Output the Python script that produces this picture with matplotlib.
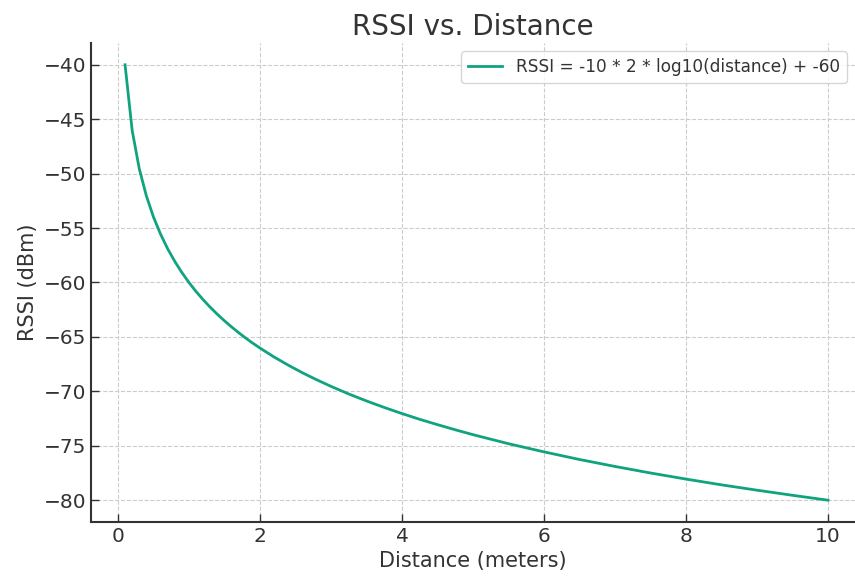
import matplotlib.pyplot as plt

# values
distance = [0.1, 0.2, 0.3, 0.4, 0.5, 0.6, 0.7, 0.8, 0.9, 1.0,
            1.1, 1.2, 1.3, 1.4, 1.5, 1.6, 1.7, 1.8, 1.9, 2.0,
            2.2, 2.4, 2.6, 2.8, 3.0, 3.25, 3.5, 3.75, 4.0, 4.25,
            4.5, 4.75, 5.0, 5.5, 6.0, 6.5, 7.0, 7.5, 8.0, 8.5,
            9.0, 9.5, 10.0]
rssi = [-40.0, -46.02, -49.54, -52.04, -53.98, -55.56, -56.9, -58.06, -59.08, -60.0,
        -60.83, -61.58, -62.28, -62.92, -63.52, -64.08, -64.61, -65.11, -65.58, -66.02,
        -66.85, -67.6, -68.3, -68.94, -69.54, -70.24, -70.88, -71.48, -72.04, -72.57,
        -73.06, -73.53, -73.98, -74.81, -75.56, -76.26, -76.9, -77.5, -78.06, -78.59,
        -79.08, -79.55, -80.0]
legend_label = "RSSI = -10 * 2 * log10(distance) + -60"

TEXT = "#333333"
plt.rcParams["text.color"] = TEXT
plt.rcParams["axes.labelcolor"] = TEXT
plt.rcParams["xtick.color"] = TEXT
plt.rcParams["ytick.color"] = TEXT

fig = plt.figure(figsize=(8.55, 5.76), dpi=100)
ax = fig.add_axes([0.1064, 0.0938, 0.8936, 0.8315])

ax.plot(distance, rssi, color="#10a37f", lw=2, label=legend_label)

ax.set_xlim(-0.38, 10.38)
ax.set_ylim(-82, -38)
ax.set_xticks([0, 2, 4, 6, 8, 10])
ax.set_yticks(range(-80, -39, 5))

ax.set_title("RSSI vs. Distance", fontsize=20, color=TEXT)
ax.set_xlabel("Distance (meters)", fontsize=15)
ax.set_ylabel("RSSI (dBm)", fontsize=15)
ax.tick_params(axis="both", labelsize=14.5, direction="in", length=6, width=1)

for side in ("top", "right"):
    ax.spines[side].set_visible(False)
for side in ("left", "bottom"):
    ax.spines[side].set_color(TEXT)
    ax.spines[side].set_linewidth(1.5)

ax.grid(True, linestyle="--", color="#cccccc", lw=0.8)
ax.set_axisbelow(True)

ax.legend(loc="upper right", fontsize=12.2, frameon=True, edgecolor="#cccccc")

fig.savefig("out.png", dpi=100)
